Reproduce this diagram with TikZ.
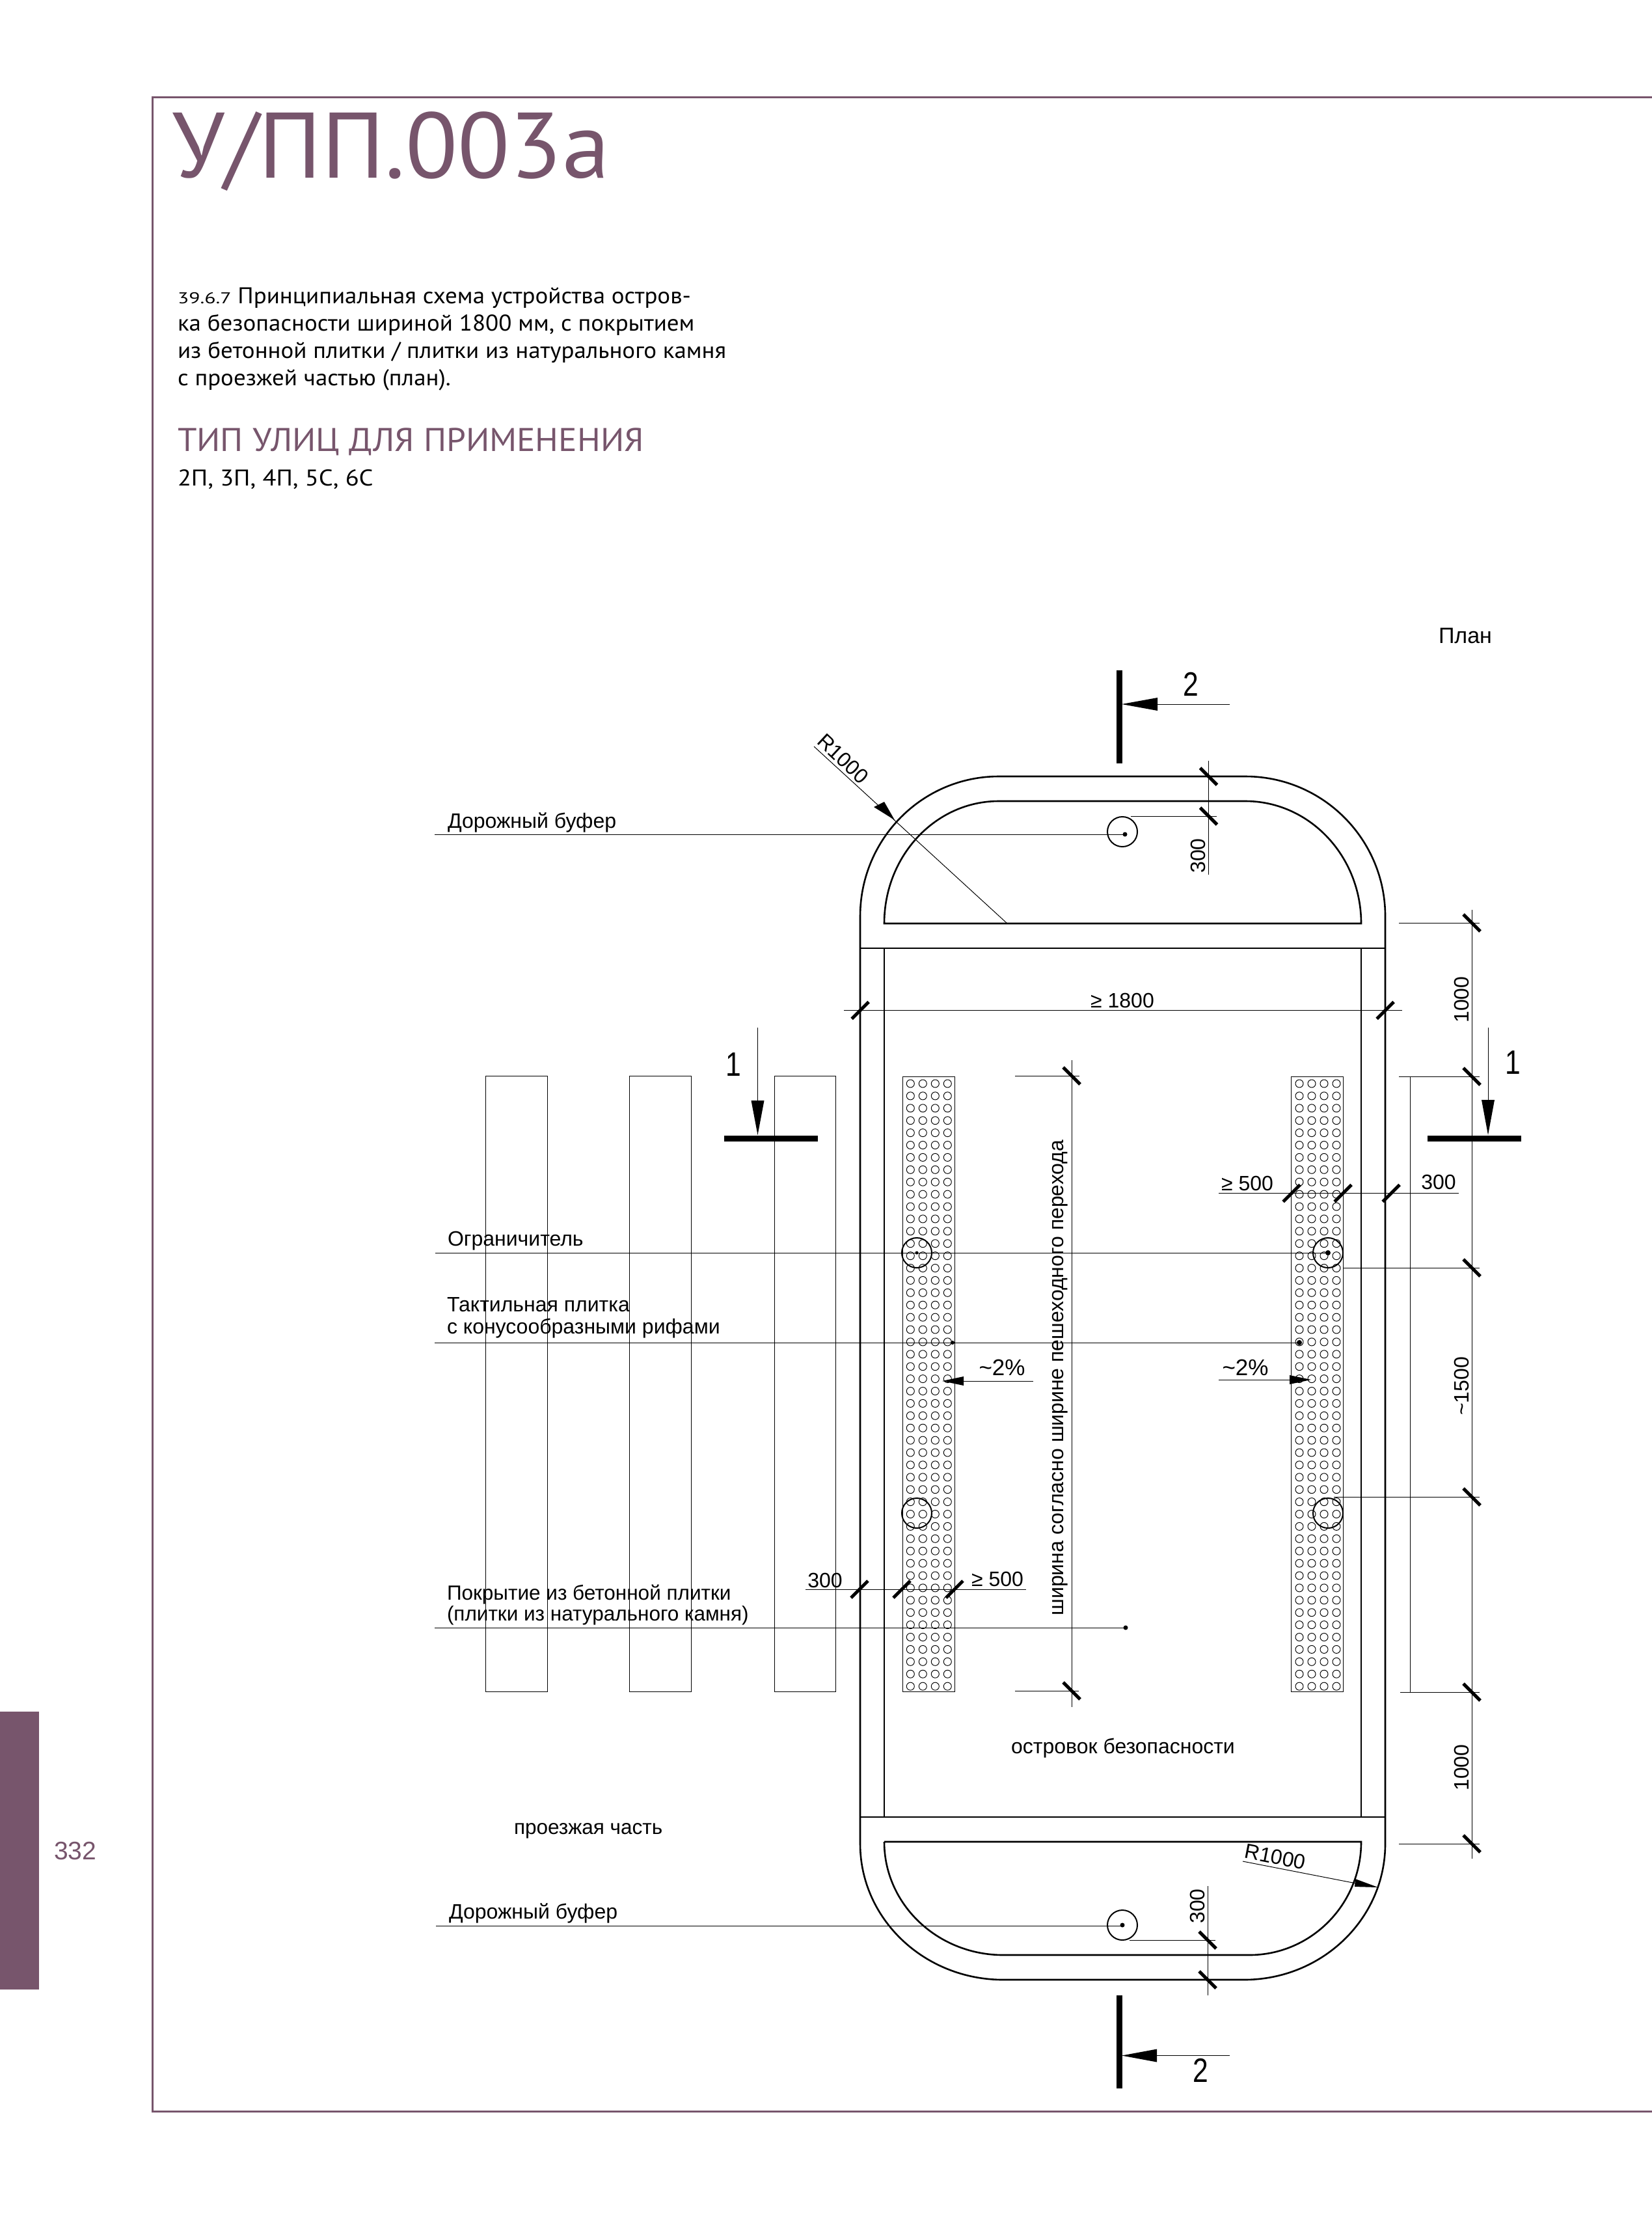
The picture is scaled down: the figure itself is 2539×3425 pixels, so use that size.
\documentclass[tikz,border=0pt]{standalone}
\usepackage{fontspec}
\setmainfont{Liberation Sans}
\newfontfamily\ptn[FakeStretch=1.055]{PT Sans}
\newfontfamily\ptt[FakeStretch=1.03]{PT Sans}
\newfontfamily\ptm[FakeStretch=1.10]{PT Sans}
\newfontfamily\ptw[FakeStretch=1.32]{PT Sans}
\newfontfamily\numf[FakeStretch=0.82]{Liberation Sans}
\definecolor{plum}{HTML}{77556C}
\newcommand\fz[1]{\fontsize{#1}{#1}\selectfont}
\newcommand\tkf[2]{\draw[tk] ({#1-13},{#2+13}) -- ({#1+13},{#2-13});}
\newcommand\tkb[2]{\draw[tk] ({#1-13},{#2-13}) -- ({#1+13},{#2+13});}
\tikzset{
  heavy/.style={line width=2.6pt,black},
  thin line/.style={line width=1pt,black},
  tile/.style={line width=0.95pt,black},
  tk/.style={line width=5pt,black},
  sect/.style={line width=9pt,black},
  frame/.style={line width=3pt,plum},
  txt/.style={inner sep=0pt,outer sep=0pt,anchor=base west},
  lab/.style={inner sep=0pt,outer sep=0pt,font=\fz{32}},
  lbl/.style={txt,font=\fz{32}},
  num/.style={inner sep=0pt,outer sep=0pt,font=\numf\fz{52}},
  body/.style={txt,font=\ptn\fz{35}}
}
\begin{document}
\begin{tikzpicture}[x=1pt,y=-1pt]
\useasboundingbox (0,0) rectangle (2539,3425);
% page furniture
\fill[plum] (0,2630) rectangle (60,3057);
\draw[frame] (2539,150) -- (234,150) -- (234,3244) -- (2539,3244);
\node[txt,font=\fz{39},text=plum] (pagenum) at (83,2857) {332};
\node[txt,font=\ptt\fz{143},text=plum] (title) at (264,274) {У/ПП.003а};
\node[body] (b1) at (273,466) {{\ptw\fz{24}39.6.7} Принципиальная схема устройства остров-};
\node[body] (b2) at (273,508) {ка безопасности шириной 1800 мм, с покрытием};
\node[body] (b3) at (273,550) {из бетонной плитки / плитки из натурального камня};
\node[body] (b4) at (273,592) {с проезжей частью (план).};
\node[txt,font=\ptn\fz{50.5},text=plum] (type) at (273,693) {ТИП УЛИЦ ДЛЯ ПРИМЕНЕНИЯ};
\node[body,font=\ptm\fz{35}] (types) at (273,746) {2П, 3П, 4П, 5С, 6С};
\node[txt,font=\fz{34}] (plan) at (2211,988) {План};
% roadway stripes
\draw[tile] (746,1653) rectangle (841,2599);
\draw[tile] (967,1653) rectangle (1062,2599);
\draw[tile] (1190,1653) rectangle (1284,2599);
% island outline
\draw[heavy] (1322,2833) -- (1322,1408)
  arc[start angle=180,end angle=90,x radius=213pt,y radius=215pt] -- (1914,1193)
  arc[start angle=90,end angle=0,x radius=215pt,y radius=215pt] -- (2129,2833)
  arc[start angle=0,end angle=-90,x radius=217pt,y radius=209pt] -- (1542,3042)
  arc[start angle=-90,end angle=-180,x radius=220pt,y radius=209pt];
\draw[heavy] (1322,1457) -- (2129,1457);
\draw[heavy] (1322,2792) -- (2129,2792);
\draw[heavy] (1359,1419) arc[start angle=180,end angle=90,x radius=176pt,y radius=188pt]
  -- (1914,1231) arc[start angle=90,end angle=0,x radius=178pt,y radius=188pt] -- cycle;
\draw[heavy] (1359,2830) -- (2092,2830)
  arc[start angle=0,end angle=-90,x radius=172pt,y radius=174pt] -- (1542,3004)
  arc[start angle=-90,end angle=-180,x radius=183pt,y radius=174pt];
\draw[heavy] (1359,1457) -- (1359,2792);
\draw[heavy] (2092,1457) -- (2092,2792);
% tactile strips
\draw[tile] (1387,1654) rectangle (1467,2599);
\draw[tile] (1984,1654) rectangle (2064,2599);
\foreach \r in {0,...,49}{
  \foreach \c in {1399.3,1418.3,1437.3,1456.3,1997,2016,2035,2054}{
    \draw[tile] (\c,{1665+\r*18.9}) circle[radius=6pt];
  }
}
% bollards / limiters
\draw[heavy,line width=2pt] (1725,1278) circle[radius=23pt];
\draw[heavy,line width=2pt] (1725,2958) circle[radius=23pt];
\draw[heavy,line width=2pt] (1409,1925) circle[radius=23pt];
\draw[heavy,line width=2pt] (2041,1925) circle[radius=23pt];
\draw[heavy,line width=2pt] (1409,2325) circle[radius=23pt];
\draw[heavy,line width=2pt] (2041,2325) circle[radius=23pt];
% leaders
\draw[thin line] (668,1282) -- (1729,1282);
\draw[thin line] (669,1925) -- (2041,1925);
\draw[thin line] (668,2063) -- (1997,2063);
\draw[thin line] (668,2501) -- (1730,2501);
\draw[thin line] (670,2959) -- (1725,2959);
\fill (1729,1282) circle[radius=3.5pt];
\fill (1409,1925) circle[radius=2.5pt];
\fill (2041,1925) circle[radius=4pt];
\fill (1464,2063) circle[radius=3pt];
\fill (1997,2063) circle[radius=4pt];
\fill (1730,2501) circle[radius=3.5pt];
\fill (1725,2958) circle[radius=3.5pt];
\node[lbl] (l1) at (688,1272) {Дорожный буфер};
\node[lbl] (l2) at (688,1914) {Ограничитель};
\node[lbl] (l3) at (687,2015) {Тактильная плитка};
\node[lbl] (l4) at (687,2049.5) {с конусообразными рифами};
\node[lbl,font=\fz{31.5}] (l5) at (687,2458.5) {Покрытие из бетонной плитки};
\node[lbl,font=\fz{31.5}] (l6) at (687,2490) {(плитки из натурального камня)};
\node[lbl] (l7) at (690,2948) {Дорожный буфер};
\node[lbl,font=\fz{31.5}] (l8) at (790,2818) {проезжая часть};
\node[lab] (l9) at (1726,2686.5) {островок безопасности};
% section marks
\draw[sect] (1720,1030) -- (1720,1173);
\draw[thin line] (1890,1082) -- (1775,1082);
\fill (1724,1082) -- (1779,1072) -- (1779,1092) -- cycle;
\node[num] (s2a) at (1830,1051) {2};
\draw[sect] (1720,3066) -- (1720,3209);
\draw[thin line] (1890,3158.5) -- (1775,3158.5);
\fill (1724,3158.5) -- (1778,3148.5) -- (1778,3168.5) -- cycle;
\node[num] (s2b) at (1845,3181) {2};
\draw[sect] (1113,1749) -- (1257,1749);
\draw[thin line] (1164.5,1579) -- (1164.5,1695);
\fill (1164.5,1744) -- (1154.5,1691) -- (1174.5,1691) -- cycle;
\node[num] (s1a) at (1127,1636) {1};
\draw[sect] (2194,1749) -- (2338,1749);
\draw[thin line] (2287,1579) -- (2287,1695);
\fill (2287,1744) -- (2277,1690) -- (2297,1690) -- cycle;
\node[num] (s1b) at (2325,1633) {1};
% top R1000
\draw[thin line] (1251,1147) -- (1548,1419);
\fill (1375,1260) -- (1343,1240) -- (1359,1232) -- cycle;
\node[lab,rotate=-43] (r1) at (1296,1166) {R1000};
% bottom R1000
\draw[thin line] (1910,2860) -- (2100,2897);
\fill (2118,2900) -- (2083,2887) -- (2082,2899) -- cycle;
\node[lab,rotate=-11] (r2) at (1960,2853) {R1000};
% 300 top
\draw[thin line] (1857.5,1169) -- (1857.5,1344);
\draw[thin line] (1738,1254) -- (1870,1254);
\tkb{1857.5}{1193}\tkb{1857.5}{1254}
\node[lab,rotate=90] (d1) at (1841,1315) {300};
% 300 bottom
\draw[thin line] (1856,2898) -- (1856,3066);
\draw[thin line] (1736,2981) -- (1868,2981);
\tkb{1856}{2981}\tkb{1856}{3042}
\node[lab,rotate=90] (d2) at (1840,2929) {300};
% 1800
\draw[thin line] (1297,1552.5) -- (2155,1552.5);
\tkf{1322}{1552.5}\tkf{2129}{1552.5}
\node[lab] (d3) at (1725,1537) {≥ 1800};
% right vertical chain
\draw[thin line] (2262,1398) -- (2262,2856);
\draw[thin line] (2150,1418) -- (2274,1418);
\draw[thin line] (2150,1654) -- (2274,1654);
\draw[thin line] (2064,1948) -- (2274,1948);
\draw[thin line] (2050,2300) -- (2274,2300);
\draw[thin line] (2152,2600) -- (2274,2600);
\draw[thin line] (2150,2833) -- (2274,2833);
\draw[thin line] (2167,1654) -- (2167,2600);
\tkb{2262}{1418}\tkb{2262}{1654}\tkb{2262}{1948}\tkb{2262}{2300}\tkb{2262}{2600}\tkb{2262}{2833}
\node[lab,rotate=90] (d4) at (2246,1536) {1000};
\node[lab,rotate=90] (d5) at (2246,2130) {\textasciitilde 1500};
\node[lab,rotate=90] (d6) at (2246,2716) {1000};
% horizontal chain, upper
\draw[thin line] (1873,1833.5) -- (2242,1833.5);
\tkf{1985}{1833.5}\tkf{2064}{1833.5}\tkf{2138}{1833.5}
\node[lab] (d7) at (1917,1818) {≥ 500};
\node[lab] (d8) at (2211,1816) {300};
% horizontal chain, lower
\draw[thin line] (1238,2442) -- (1577,2442);
\tkf{1321}{2442}\tkf{1386}{2442}\tkf{1467}{2442}
\node[lab] (d9) at (1268,2428) {300};
\node[lab] (d10) at (1533,2426) {≥ 500};
% slopes
\draw[thin line] (1873,2120) -- (1985,2120);
\fill (2015,2120) -- (1982,2113) -- (1982,2127) -- cycle;
\node[lab,font=\fz{35}] (p1) at (1914,2101) {\textasciitilde 2\%};
\draw[thin line] (1588,2122) -- (1478,2122);
\fill (1448,2122) -- (1481,2115) -- (1481,2129) -- cycle;
\node[lab,font=\fz{35}] (p2) at (1540,2101) {\textasciitilde 2\%};
% crossing width
\draw[thin line] (1647,1629) -- (1647,2623);
\draw[thin line] (1560,1653) -- (1659,1653);
\draw[thin line] (1560,2598) -- (1658,2598);
\tkb{1647}{1653}\tkb{1647}{2598}
\node[lab,rotate=90] (w) at (1629,2117) {ширина согласно ширине пешеходного перехода};
\end{tikzpicture}
\end{document}
